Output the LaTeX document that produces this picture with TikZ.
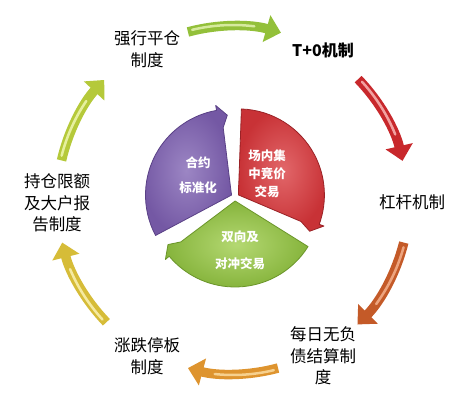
\documentclass[tikz,border=0pt]{standalone}
\usepackage{fontspec}
\setmainfont{Noto Sans CJK SC}
\usetikzlibrary{arrows.meta,calc}
\definecolor{pieP}{HTML}{7458A4}\definecolor{piePl}{HTML}{9C86C4}\definecolor{piePd}{HTML}{5A4186}
\definecolor{pieR}{HTML}{C83236}\definecolor{pieRl}{HTML}{E2676A}\definecolor{pieRd}{HTML}{9A2226}
\definecolor{pieG}{HTML}{86B43C}\definecolor{pieGl}{HTML}{B4D872}\definecolor{pieGd}{HTML}{6A9529}
\definecolor{arA}{HTML}{93C03A}\definecolor{arAl}{HTML}{D6EA9E}
\definecolor{arB}{HTML}{C8282C}\definecolor{arBl}{HTML}{F2A0A0}
\definecolor{arC}{HTML}{C45A28}\definecolor{arCl}{HTML}{EDA47E}
\definecolor{arD}{HTML}{DE942F}\definecolor{arDl}{HTML}{F6D08E}
\definecolor{arE}{HTML}{D6BC38}\definecolor{arEl}{HTML}{F5EAA0}
\definecolor{arF}{HTML}{B5C93A}\definecolor{arFl}{HTML}{E6F09E}
% start angle, end angle, radius, dark colour, light colour
\newcommand\ringarrow[5]{%
  \draw[line width=9.5pt, #4, -{Triangle[width=27pt,length=15pt]}]
    ($(O)+(#1:#3)$) arc[start angle=#1, end angle=#2, radius=#3];
  \draw[line width=2.5pt, #5, line cap=round]
    ($(O)+({#1-1.5}:{#3+1})$) arc[start angle={#1-1.5}, end angle={#2+9}, radius={#3+1}];
}
% start angle, end angle, base, light, border, name
\newcommand\pieslice[6]{%
  \coordinate (#6) at ($(P)+({(#1+#2)/2}:4)$);
  \shadedraw[inner color=#4, outer color=#3, draw=#5, line width=0.8pt, line join=round]
    (#6) -- ($(#6)+(#1:86)$) arc[start angle=#1, end angle={#2+5}, radius=86]
    -- ($(#6)+({#2+5}:91)$) -- ($(#6)+({#2-2}:80)$) -- ($(#6)+({#2+2}:68)$) -- cycle;
}
\begin{document}
\begin{tikzpicture}[x=1pt,y=1pt,
  lbl/.style={font=\fontsize{16.5}{21.5}\selectfont, align=center, text=black, inner sep=0pt},
  inlbl/.style={font=\fontsize{12.5}{18}\selectfont\bfseries, align=center, text=white, inner sep=0pt}]
\useasboundingbox (0,0) rectangle (467,413);
\fill[white] (0,0) rectangle (467,413);
\coordinate (O) at (233,213);
\coordinate (P) at (235,216);

% outer ring of arrows
\ringarrow{105}{74}{174}{arA}{arAl}
\ringarrow{44}{13}{174}{arB}{arBl}
\ringarrow{-14}{-45}{176}{arC}{arCl}
\ringarrow{-75}{-105}{174}{arD}{arDl}
\ringarrow{-136}{-166}{176}{arE}{arEl}
\ringarrow{167}{137}{176}{arF}{arFl}

% central pie
\pieslice{208}{95}{pieP}{piePl}{piePd}{vP}
\pieslice{88}{-25}{pieR}{pieRl}{pieRd}{vR}
\pieslice{-32}{-145}{pieG}{pieGl}{pieGd}{vG}

\node[inlbl] (hy) at (198,238) {合约\\[7pt]标准化};
\node[inlbl] (cn) at (267,239) {场内集\\中竞价\\交易};
\node[inlbl] (sx) at (240,163) {双向及\\[9pt]对冲交易};

% outer labels
\node[lbl] (qx) at (147,364) {强行平仓\\制度};
\node[lbl, font=\fontsize{16}{20}\selectfont\bfseries] (t0) at (323,363) {T+0机制};
\node[lbl] (gg) at (412,211) {杠杆机制};
\node[lbl] (mr) at (323,57) {每日无负\\债结算制\\度};
\node[lbl] (zd) at (147,57) {涨跌停板\\制度};
\node[lbl] (cc) at (57,210) {持仓限额\\及大户报\\告制度};
\end{tikzpicture}
\end{document}
